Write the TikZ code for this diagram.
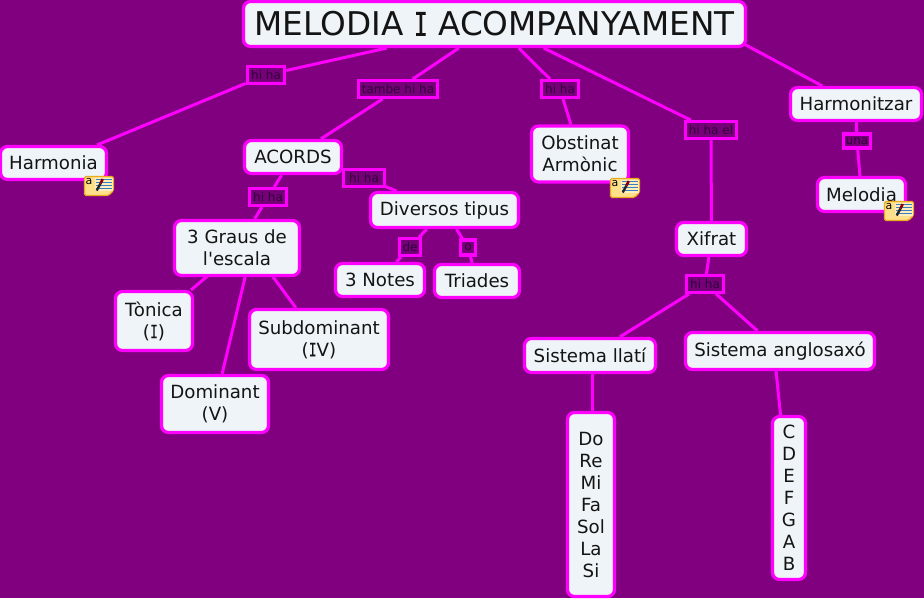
\documentclass[tikz,border=0pt]{standalone}
\usepackage{fontspec}
\setmainfont{DejaVu Sans}
\newfontfamily\plainsans{DejaVu Sans}
\newfontfamily\serifI[FakeStretch=0.72,FakeBold=0.4]{DejaVu Sans Mono}
\usetikzlibrary{backgrounds}
\definecolor{bgpurple}{HTML}{800080}
\definecolor{mag}{HTML}{FF00FF}
\definecolor{boxfill}{HTML}{EEF4F7}
\definecolor{labtext}{HTML}{2E0038}
\definecolor{labfill}{HTML}{760078}
\definecolor{noteyel}{HTML}{FFE08A}
\definecolor{noteedge}{HTML}{EBA91E}
\definecolor{noteblue}{HTML}{3A7FC0}
\tikzset{
  x=1pt,y=-1pt,
  concept/.style={draw=mag,fill=boxfill,line width=3.2pt,rounded corners=7pt,inner sep=0pt,align=center,text=black!92,font=\plainsans\fontsize{18.2}{22}\selectfont,minimum width=#1-1pt},
  rootbox/.style={concept=503pt,font=\plainsans\fontsize{32.7}{38}\selectfont,minimum height=45pt},
  lab/.style={draw=mag,fill=labfill,line width=3.2pt,inner sep=0pt,text=labtext,font=\plainsans\fontsize{12}{14}\selectfont,minimum width=#1-1.5pt,minimum height=16.5pt},
  link/.style={draw=mag,line width=3pt},
  pics/noteicon/.style={code={
    \draw[fill=noteyel,draw=noteedge,line width=1.2pt,rounded corners=1.5pt] (0,0) -- (29,0) -- (29,14) -- (24,19) -- (0,19) -- cycle;
    \fill[noteyel!55!white] (10,1) rectangle (28,14);
    \foreach \yy in {3,6,9,12}{\draw[noteblue,line width=.9pt] (11,\yy) -- (27,\yy);}
    \draw[black!85,line width=2.4pt] (12.2,14) -- (16,7);
    \draw[red!55!black,line width=2.6pt] (16,7) -- (18.2,2.5);
    \node[inner sep=0pt,font=\plainsans\fontsize{11}{11}\selectfont,text=black] (#1) at (4.5,5) {a};
  }},
}
\begin{document}
\begin{tikzpicture}
\useasboundingbox (0,0) rectangle (924,598);
\node[rootbox] (root) at (494.5,24) {MELODIA {\serifI I} ACOMPANYAMENT};
\node[concept=107pt,minimum height=33pt] (harmonia) at (53.5,163) {Harmonia};
\node[concept=98pt,minimum height=33pt] (acords) at (293,157) {ACORDS};
\node[concept=98pt,minimum height=56pt] (obstinat) at (580,154) {Obstinat\\Armònic};
\node[concept=132pt,minimum height=33pt] (harmonitzar) at (856,104) {Harmonitzar};
\node[concept=89pt,minimum height=34pt] (melodia) at (861.5,194.5) {Melodia};
\node[concept=71pt,minimum height=33pt] (xifrat) at (711.5,239) {Xifrat};
\node[concept=149pt,minimum height=35pt] (diversos) at (444.5,210) {Diversos tipus};
\node[concept=90pt,minimum height=33pt] (notes) at (380,280) {3 Notes};
\node[concept=86pt,minimum height=33pt] (triades) at (477,281) {Triades};
\node[concept=126pt,minimum height=55pt] (graus) at (237,248) {3 Graus de\\l'escala};
\node[concept=78pt,minimum height=59pt] (tonica) at (154,321) {Tònica\\({\serifI I})};
\node[concept=108pt,minimum height=57pt] (dominant) at (215,404) {Dominant\\(V)};
\node[concept=140pt,minimum height=60pt] (subdominant) at (319,339.5) {Subdominant\\({\serifI I}V)};
\node[concept=132pt,minimum height=34pt] (llati) at (590,355.5) {Sistema llatí};
\node[concept=190pt,minimum height=37pt] (anglo) at (780,351) {Sistema anglosaxó};
\node[concept=48pt,minimum height=184pt] (solfa) at (591,504.5) {Do\\Re\\Mi\\Fa\\Sol\\La\\Si};
\node[concept=34pt,minimum height=163pt] (lletres) at (789,498) {C\\D\\E\\F\\G\\A\\B};

\node[lab=39pt] (l1) at (266,75) {hi ha};
\node[lab=80pt] (l2) at (398,89) {tambe hi ha};
\node[lab=38pt] (l3) at (560,89) {hi ha};
\node[lab=52pt] (l4) at (711,130) {hi ha el};
\node[lab=29pt,minimum height=14pt] (l5) at (857,141) {una};
\node[lab=38pt] (l6) at (268,197) {hi ha};
\node[lab=42pt] (l7) at (364,178) {hi ha};
\node[lab=22pt] (l8) at (410,247) {de};
\node[lab=16pt,minimum height=15pt] (l9) at (468,247.5) {o};
\node[lab=38pt] (l10) at (705,284) {hi ha};

\coordinate (rootright) at (744,44);
\coordinate (hubgraus) at (252,248);
\coordinate (hubtonica) at (241,248);
\coordinate (hubllati) at (592,356);
\coordinate (hubsolfa) at (592,505);
\coordinate (hubanglo) at (774,351);

\begin{scope}[on background layer]
\fill[bgpurple] (0,0) rectangle (924,598);
\draw[link] (root) -- (l1) -- (harmonia);
\draw[link] (root) -- (l2) -- (acords);
\draw[link] (root) -- (l3) -- (obstinat);
\draw[link] (root) -- (l4) -- (xifrat);
\draw[link] (rootright) -- (harmonitzar);
\draw[link] (harmonitzar) -- (l5) -- (melodia);
\draw[link] (acords) -- (l6) -- (graus);
\draw[link] (acords) -- (l7) -- (diversos);
\draw[link] (diversos) -- (l8) -- (notes);
\draw[link] (diversos) -- (l9) -- (triades);
\draw[link] (hubtonica) -- (tonica);
\draw[link] (hubgraus) -- (dominant);
\draw[link] (hubgraus) -- (subdominant);
\draw[link] (xifrat) -- (l10);
\draw[link] (l10) -- (llati);
\draw[link] (l10) -- (anglo);
\draw[link] (hubllati) -- (hubsolfa);
\draw[link] (hubanglo) -- (lletres);
\end{scope}
\pic at (84.5,176.5) {noteicon=n1};
\pic at (610.5,178.5) {noteicon=n2};
\pic at (884.5,201.5) {noteicon=n3};
\end{tikzpicture}
\end{document}
